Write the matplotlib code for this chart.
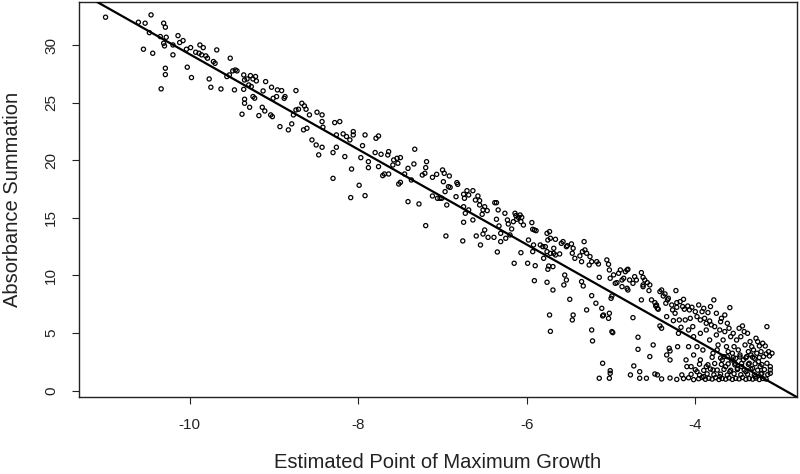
import numpy as np
import matplotlib.pyplot as plt

plt.rcParams['font.family'] = ['Liberation Sans', 'DejaVu Sans']
plt.rcParams['axes.unicode_minus'] = False

# regression line
fit_intercept = -12.1
fit_slope = -4.13

x_ticks = [-10, -8, -6, -4]
y_ticks = [0, 5, 10, 15, 20, 25, 30]

x_label = "Estimated Point of Maximum Growth"
y_label = "Absorbance Summation"

# points (x, y)
pts_far_left = [
    (-11.00, 32.42), (-10.61, 31.98), (-10.53, 31.90), (-10.46, 32.62), (-10.48, 31.08),
    (-10.31, 31.90), (-10.29, 31.55), (-10.55, 29.64), (-10.44, 29.29), (-10.35, 30.74),
    (-10.31, 30.16), (-10.30, 29.93), (-10.28, 30.68), (-10.20, 30.01), (-10.20, 29.15),
    (-10.29, 27.99), (-10.29, 27.44), (-10.34, 26.20), (-10.14, 30.82), (-10.08, 30.39),
    (-10.12, 30.22), (-10.03, 28.08), (-9.98, 27.18), (-10.04, 29.64), (-9.99, 29.78),
    (-9.93, 29.38), (-9.88, 30.01), (-9.84, 29.78), (-9.89, 29.29), (-9.86, 29.15),
    (-9.81, 29.06), (-9.79, 28.86), (-9.72, 28.57), (-9.70, 28.42), (-9.68, 29.58),
    (-9.77, 27.06), (-9.75, 26.34), (-9.63, 26.19), (-9.52, 28.86), (-9.56, 27.27),
    (-9.53, 27.41), (-9.49, 27.76), (-9.46, 27.84), (-9.44, 27.76), (-9.47, 26.11),
    (-9.36, 27.41), (-9.35, 26.97), (-9.32, 27.06), (-9.28, 27.35), (-9.25, 27.06),
    (-9.22, 27.27), (-9.21, 26.89), (-9.30, 26.54), (-9.36, 26.16), (-9.27, 26.40),
    (-9.25, 25.53), (-9.23, 25.39), (-9.35, 25.30), (-9.35, 24.95), (-9.38, 24.00),
    (-9.29, 24.60), (-9.18, 23.88), (-9.14, 24.60), (-9.11, 24.28), (-9.13, 26.02),
    (-9.10, 26.83),
]

pts_left = [
    (-9.03, 26.34), (-8.96, 26.11), (-8.91, 26.05), (-8.97, 25.53), (-9.01, 25.38),
    (-8.87, 25.53), (-8.88, 25.38), (-8.74, 26.05), (-9.04, 23.94), (-9.02, 23.79),
    (-8.93, 22.92), (-8.83, 22.64), (-8.79, 23.16), (-8.77, 23.94), (-8.74, 24.37),
    (-8.71, 24.43), (-8.67, 24.95), (-8.64, 24.72), (-8.62, 24.43), (-8.58, 23.94),
    (-8.65, 22.64), (-8.61, 22.78), (-8.49, 24.17), (-8.43, 23.94), (-8.43, 23.36),
    (-8.42, 22.87), (-8.55, 21.77), (-8.50, 21.33), (-8.43, 21.13), (-8.47, 20.47),
    (-8.28, 23.27), (-8.22, 23.36), (-8.26, 22.20), (-8.18, 22.29), (-8.14, 22.06),
    (-8.10, 21.77), (-8.06, 22.20), (-8.06, 22.49), (-8.26, 21.13), (-8.30, 20.67),
    (-8.16, 20.32), (-7.95, 21.27), (-7.92, 22.20), (-7.79, 21.91), (-7.76, 22.11),
    (-7.80, 20.67), (-7.73, 20.52), (-7.64, 20.75), (-7.33, 20.96),
]

pts_mid = [
    (-8.30, 18.43), (-8.09, 16.76), (-7.92, 16.93), (-7.99, 17.83), (-8.08, 19.24),
    (-7.97, 20.23), (-7.88, 19.88), (-7.88, 19.36), (-7.76, 19.45), (-7.71, 18.67),
    (-7.69, 18.81), (-7.64, 18.81), (-7.65, 20.46), (-7.59, 19.59), (-7.58, 20.03),
    (-7.54, 20.17), (-7.50, 20.23), (-7.53, 19.74), (-7.52, 17.94), (-7.50, 18.09),
    (-7.45, 18.81), (-7.41, 19.30), (-7.34, 19.68), (-7.37, 18.29), (-7.41, 16.41),
    (-7.28, 16.21), (-7.24, 18.72), (-7.21, 18.87), (-7.20, 19.36), (-7.19, 19.88),
    (-7.12, 18.52), (-7.07, 18.78), (-7.12, 16.90), (-7.06, 16.70), (-7.03, 16.70),
    (-7.00, 19.16), (-6.98, 18.87), (-6.99, 18.14), (-6.97, 17.28), (-6.95, 16.12),
    (-6.92, 18.64), (-6.93, 17.71), (-6.91, 17.65), (-7.01, 16.70), (-7.20, 14.33),
    (-6.96, 13.43), (-6.83, 18.06), (-6.82, 17.91), (-6.84, 16.84), (-6.75, 17.05),
    (-6.74, 16.70), (-6.71, 17.36), (-6.69, 16.99), (-6.64, 17.36), (-6.75, 15.97),
    (-6.73, 15.40), (-6.75, 14.62), (-6.76, 13.00), (-6.69, 15.69), (-6.64, 14.82),
    (-6.61, 16.55), (-6.60, 13.43), (-6.58, 16.90), (-6.56, 16.50), (-6.56, 16.12),
    (-6.55, 12.65), (-6.53, 15.31), (-6.52, 15.69), (-6.50, 15.97), (-6.50, 13.95),
    (-6.47, 15.63), (-6.52, 13.60), (-6.46, 13.31), (-6.39, 13.31), (-6.38, 16.32),
    (-6.36, 16.32), (-6.36, 14.88), (-6.35, 12.04), (-6.34, 15.69), (-6.33, 14.30),
    (-6.31, 13.66), (-6.31, 12.94), (-6.25, 13.23), (-6.26, 15.40), (-6.23, 14.82),
    (-6.22, 14.47), (-6.20, 13.52), (-6.18, 14.04), (-6.16, 14.67), (-6.15, 11.06),
    (-6.14, 15.40), (-6.13, 15.20), (-6.12, 14.88), (-6.10, 15.05), (-6.08, 15.25),
    (-6.07, 14.67), (-6.06, 15.05), (-6.04, 14.38), (-6.07, 11.98), (-5.99, 11.06),
    (-5.93, 14.01), (-5.94, 14.59), (-5.91, 13.95), (-5.89, 13.89), (-5.90, 10.85),
    (-5.91, 9.55), (-5.98, 13.08), (-5.92, 12.65), (-5.93, 12.07), (-5.84, 12.65),
    (-5.81, 12.50), (-5.78, 12.50), (-5.76, 13.66), (-5.73, 13.81), (-5.75, 13.08),
    (-5.72, 13.23), (-5.76, 12.07), (-5.72, 11.92), (-5.68, 12.36), (-5.66, 13.14),
    (-5.68, 11.92), (-5.66, 11.78), (-5.61, 11.87), (-5.59, 12.79), (-5.57, 12.94),
    (-5.53, 12.50), (-5.52, 12.59), (-5.80, 11.49), (-5.74, 10.82), (-5.69, 10.77),
    (-5.75, 10.54), (-5.76, 9.41), (-5.69, 8.74), (-5.73, 6.57), (-5.72, 5.15),
    (-5.55, 10.04), (-5.53, 9.61), (-5.56, 9.18), (-5.49, 7.93),
]

pts_right = [
    (-5.47, 12.74), (-5.45, 12.36), (-5.46, 11.93), (-5.43, 11.49), (-5.45, 6.57),
    (-5.46, 6.14), (-5.37, 11.70), (-5.35, 11.20), (-5.32, 12.94), (-5.34, 12.07),
    (-5.31, 12.22), (-5.29, 11.93), (-5.25, 11.64), (-5.23, 11.20), (-5.26, 10.91),
    (-5.33, 9.09), (-5.35, 9.47), (-5.29, 7.01), (-5.23, 8.25), (-5.23, 5.27),
    (-5.22, 4.32), (-5.18, 7.59), (-5.17, 11.20), (-5.15, 11.00), (-5.14, 9.84),
    (-5.11, 7.15), (-5.10, 6.49), (-5.09, 6.57), (-5.10, 2.38), (-5.05, 11.35),
    (-5.03, 10.97), (-5.02, 10.48), (-5.01, 9.76), (-5.00, 8.02), (-4.99, 8.22),
    (-5.02, 6.72), (-5.03, 6.28), (-4.99, 5.13), (-4.98, 5.04), (-5.01, 1.74),
    (-5.01, 1.51), (-5.02, 1.08), (-5.14, 1.08), (-4.97, 10.05), (-4.95, 9.32),
    (-4.93, 9.38), (-4.91, 10.19), (-4.89, 10.48), (-4.87, 9.61), (-4.85, 9.76),
    (-4.83, 10.33), (-4.81, 10.48), (-4.80, 10.54), (-4.87, 9.03), (-4.81, 8.89),
    (-4.80, 8.74), (-4.78, 9.61), (-4.77, 1.37), (-4.74, 9.32), (-4.74, 6.34),
    (-4.73, 2.15), (-4.72, 9.90), (-4.70, 9.61), (-4.68, 4.64), (-4.68, 3.59),
    (-4.66, 1.65), (-4.66, 1.08), (-4.64, 10.25), (-4.64, 7.88), (-4.62, 9.18),
    (-4.62, 9.84), (-4.62, 9.03), (-4.60, 9.61), (-4.58, 1.08), (-4.57, 9.38),
    (-4.55, 8.69), (-4.54, 9.18), (-4.54, 2.96), (-4.52, 7.88), (-4.50, 3.97),
    (-4.48, 7.64), (-4.47, 7.35), (-4.46, 7.44), (-4.45, 7.15), (-4.44, 7.07),
    (-4.48, 1.45), (-4.45, 1.37), (-4.42, 8.60), (-4.40, 8.74), (-4.42, 5.62),
    (-4.40, 5.42), (-4.38, 8.22), (-4.36, 8.40), (-4.35, 7.59), (-4.34, 6.43),
    (-4.34, 3.10), (-4.33, 7.88), (-4.32, 8.02), (-4.31, 3.68), (-4.30, 3.45),
    (-4.30, 2.67), (-4.28, 7.44), (-4.27, 7.01), (-4.26, 6.08), (-4.24, 6.72),
    (-4.23, 8.69), (-4.22, 7.64), (-4.22, 7.24), (-4.21, 3.82), (-4.20, 4.98),
    (-4.19, 6.14), (-4.18, 7.73), (-4.17, 5.50), (-4.16, 1.37), (-4.15, 7.30),
    (-4.14, 7.93), (-4.13, 7.07), (-4.12, 6.14), (-4.11, 2.67), (-4.10, 2.09),
    (-4.09, 7.35), (-4.08, 5.27), (-4.08, 3.82), (-4.07, 7.01), (-4.06, 6.28),
    (-4.05, 2.09), (-4.04, 7.24), (-4.03, 5.56), (-4.02, 3.10), (-4.02, 4.69),
    (-4.00, 6.86), (-3.98, 6.43), (-3.98, 3.82), (-3.98, 1.65), (-3.96, 7.44),
    (-3.94, 6.14), (-3.94, 4.98), (-3.94, 2.67), (-3.92, 6.86), (-3.91, 3.53),
    (-3.90, 1.22), (-3.90, 7.15), (-3.89, 6.28), (-3.87, 5.85), (-3.87, 5.27),
    (-3.87, 2.09), (-3.85, 6.78), (-3.83, 4.40), (-3.83, 6.05), (-3.82, 7.30),
    (-3.81, 5.71), (-3.79, 3.25), (-3.79, 1.80), (-3.78, 7.88), (-3.77, 5.56),
    (-3.75, 6.72), (-3.75, 4.84), (-3.74, 3.54), (-3.73, 3.97), (-3.71, 1.22),
    (-3.71, 5.27), (-3.70, 5.99), (-3.69, 6.28), (-3.68, 2.67), (-3.67, 4.40),
    (-3.66, 2.96), (-3.65, 6.57), (-3.65, 5.13), (-3.64, 2.09), (-3.63, 3.82),
    (-3.62, 5.85), (-3.61, 3.39), (-3.60, 5.42), (-3.59, 7.21), (-3.59, 1.65),
    (-3.58, 4.69), (-3.57, 2.67), (-3.56, 3.25), (-3.55, 4.98), (-3.54, 3.82),
    (-3.53, 2.38), (-3.52, 2.81), (-3.51, 4.40), (-3.50, 1.94), (-3.49, 3.54),
    (-3.48, 5.42), (-3.47, 3.10), (-3.46, 4.69), (-3.45, 2.09), (-3.44, 5.62),
    (-3.43, 2.67), (-3.42, 5.13), (-3.41, 3.97), (-3.40, 1.65), (-3.39, 2.96),
    (-3.38, 4.98), (-3.37, 3.39), (-3.36, 2.38), (-3.35, 4.26), (-3.34, 3.10),
    (-3.33, 3.82), (-3.32, 1.94), (-3.31, 3.54), (-3.30, 2.81), (-3.29, 1.22),
    (-3.28, 4.55), (-3.27, 3.25), (-3.26, 4.26), (-3.25, 2.52), (-3.24, 3.88),
    (-3.23, 2.09), (-3.22, 3.39), (-3.21, 1.51), (-3.20, 4.12), (-3.19, 2.96),
    (-3.17, 3.88), (-3.16, 3.19), (-3.15, 5.56), (-3.15, 2.38), (-3.13, 3.39),
    (-3.12, 3.01), (-3.11, 2.09), (-3.11, 1.51), (-3.09, 3.25), (-3.11, 1.80),
]

# crowded band along the bottom right
pts_dense = [
    (-4.40, 1.02), (-4.30, 1.10), (-4.22, 0.98), (-4.14, 1.05), (-4.08, 1.12),
    (-4.02, 0.96), (-3.96, 1.04), (-3.92, 1.15), (-3.88, 0.99), (-3.84, 1.08),
    (-3.80, 1.01), (-3.76, 1.13), (-3.72, 0.97), (-3.68, 1.06), (-3.64, 1.00),
    (-3.60, 1.11), (-3.56, 0.98), (-3.52, 1.07), (-3.48, 1.02), (-3.44, 1.14),
    (-3.40, 0.99), (-3.36, 1.05), (-3.32, 1.00), (-3.28, 1.09), (-3.24, 0.97),
    (-3.20, 1.06), (-3.16, 1.01),
    (-4.05, 1.42), (-3.95, 1.35), (-3.86, 1.46), (-3.78, 1.38), (-3.70, 1.44),
    (-3.62, 1.36), (-3.54, 1.47), (-3.46, 1.39), (-3.38, 1.43), (-3.30, 1.35),
    (-3.22, 1.45), (-3.14, 1.40),
    (-4.00, 1.82), (-3.90, 1.76), (-3.82, 1.88), (-3.74, 1.79), (-3.66, 1.85),
    (-3.58, 1.77), (-3.50, 1.84), (-3.42, 1.80), (-3.34, 1.87), (-3.26, 1.78),
    (-3.18, 1.83),
    (-3.95, 2.30), (-3.85, 2.25), (-3.77, 2.36), (-3.69, 2.28), (-3.61, 2.33),
    (-3.53, 2.24), (-3.45, 2.37), (-3.37, 2.29), (-3.29, 2.34), (-3.21, 2.26),
    (-3.80, 2.90), (-3.70, 2.84), (-3.62, 2.95), (-3.55, 2.87), (-3.47, 2.93),
    (-3.40, 2.85), (-3.32, 2.91), (-3.24, 2.88),
]

pts = np.array(pts_far_left + pts_left + pts_mid + pts_right + pts_dense)

fig = plt.figure(figsize=(8, 4.74), dpi=100)
ax = fig.add_axes([0.09875, 0.1624, 0.8975, 0.8334])

ax.scatter(pts[:, 0], pts[:, 1], s=9, facecolors='none',
           edgecolors='black', linewidths=0.9, zorder=2)
ax.axline((0, fit_intercept), slope=fit_slope, color='black', lw=1.6, zorder=3)

ax.set_xlim(-11.315, -2.793)
ax.set_ylim(-0.55, 33.74)
ax.set_xticks(x_ticks)
ax.set_yticks(y_ticks)
ax.set_xticklabels([str(v) for v in x_ticks])
ax.set_yticklabels([str(v) for v in y_ticks], rotation=90, va='center')

ax.tick_params(direction='out', length=5, width=0.8, labelsize=11, pad=10,
               colors='#222222')
for s in ax.spines.values():
    s.set_linewidth(1.0)
    s.set_color('#222222')

ax.set_xlabel(x_label, fontsize=14.5, va='center', color='#222222')
ax.xaxis.set_label_coords(0.5, -0.166)
ax.set_ylabel(y_label, fontsize=14.5, va='center', color='#222222')
ax.yaxis.set_label_coords(-0.092, 0.5)

fig.savefig('out.png', dpi=100)
